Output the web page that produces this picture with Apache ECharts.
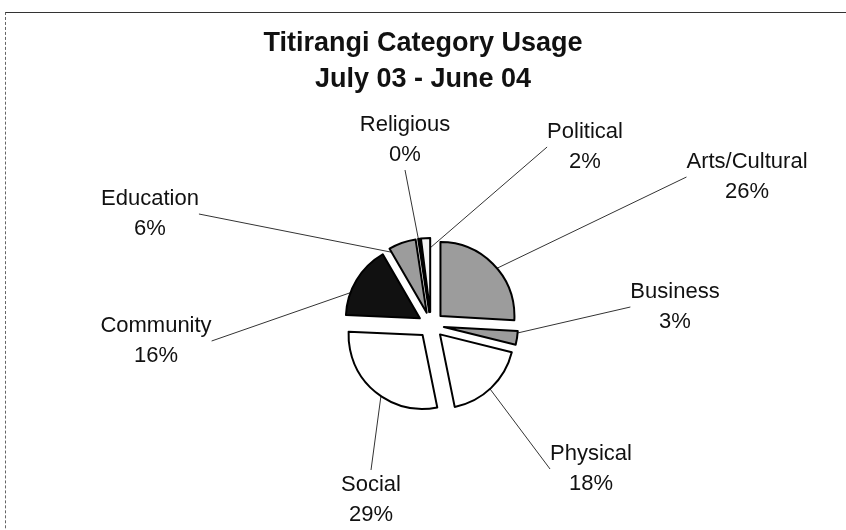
<!DOCTYPE html>
<html>
<head>
<meta charset="utf-8">
<script src="https://cdn.jsdelivr.net/npm/echarts@6/dist/echarts.min.js"></script>
<style>
html,body{margin:0;padding:0;background:#fff;}
#wrap{position:relative;width:846px;height:530px;overflow:hidden;}
#frame{position:absolute;left:5px;top:12px;width:900px;height:600px;border-top:1px solid #333;border-left:1px dashed #666;}
#chart{position:absolute;left:0;top:0;width:846px;height:530px;}
</style>
</head>
<body>
<div id="wrap">
	<div id="frame"></div>
	<div id="chart"></div>
</div>
<script>
//分类
var categories = ['Arts/Cultural','Business','Physical','Social','Community','Education','Religious','Political'];
//百分比
var usage = [26, 3, 18, 29, 16, 6, 0.4, 2];
//颜色
var sliceColors = ['#9c9c9c','#9c9c9c','#ffffff','#ffffff','#111111','#9c9c9c','#222222','#f4f4f4'];
//标签中心位置
var labelAnchor = [[747,177],[675,307],[591,469],[371,500],[156,341],[150,214],[405,140],[585,147]];

var myChart = echarts.init(document.getElementById('chart'));

var pieData = [], labelData = [];
for(var i=0;i<categories.length;i++){
	pieData.push({
		name: categories[i],
		value: usage[i],
		selected: true,
		itemStyle: {color: sliceColors[i]}
	});
	labelData.push({name: categories[i], value: usage[i]});
}

var pieCenter = [431, 325];
var pieRadius = 74;

var option = {
	animation: false,
	title: {
		text: 'Titirangi Category Usage\nJuly 03 - June 04',
		left: 'center',
		top: 21,
		textStyle: {
			fontFamily: 'Liberation Sans',
			fontWeight: 'bold',
			fontSize: 27,
			lineHeight: 36,
			color: '#111'
		}
	},
	series: [
		{
			//只用来画标签和引导线
			type: 'pie',
			z: 1,
			center: pieCenter,
			radius: pieRadius,
			startAngle: 90,
			percentPrecision: 0,
			silent: true,
			avoidLabelOverlap: false,
			itemStyle: {color: 'rgba(0,0,0,0)', borderWidth: 0},
			emphasis: {disabled: true},
			label: {
				show: true,
				position: 'outside',
				formatter: '{b}\n{d}%',
				fontFamily: 'Liberation Sans',
				fontSize: 22,
				lineHeight: 30,
				color: '#111',
				align: 'center'
			},
			labelLine: {
				show: true,
				length: 10,
				length2: 0,
				lineStyle: {color: '#333', width: 1}
			},
			labelLayout: function(params){
				var p = labelAnchor[params.dataIndex];
				return {x: p[0], y: p[1], align: 'center', verticalAlign: 'middle'};
			},
			data: labelData
		},
		{
			type: 'pie',
			z: 3,
			center: pieCenter,
			radius: pieRadius,
			startAngle: 90,
			clockwise: true,
			selectedMode: 'multiple',
			selectedOffset: 13,
			silent: true,
			itemStyle: {borderColor: '#000', borderWidth: 2},
			select: {itemStyle: {borderColor: '#000', borderWidth: 2}},
			emphasis: {disabled: true},
			label: {show: false},
			labelLine: {show: false},
			data: pieData
		}
	]
};

myChart.setOption(option);
</script>
</body>
</html>
